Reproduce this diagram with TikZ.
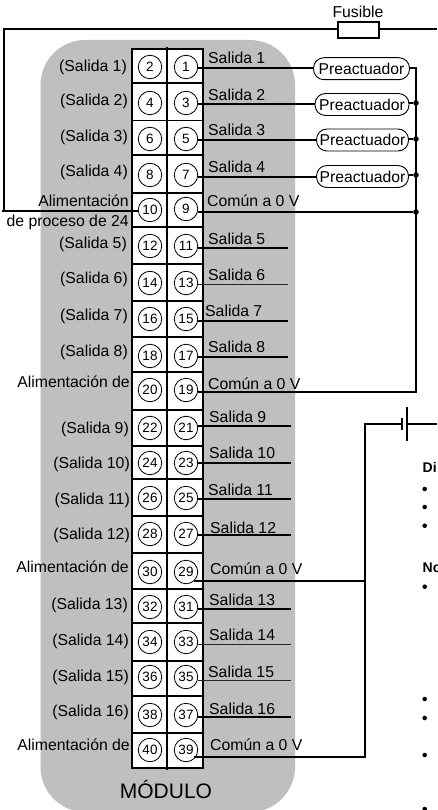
\documentclass[tikz,border=0pt]{standalone}
\usepackage{fontspec}
\setmainfont{Liberation Sans}
\newcommand{\lab}{\fontsize{15.8}{16}\selectfont}
\tikzset{
  x=1pt,y=-1pt,
  wire/.style={line width=1.9pt,line cap=butt},
  thinwire/.style={line width=0.9pt,black!85},
  term/.style={circle,draw,line width=0.8pt,fill=white,minimum size=23.5pt,inner sep=0pt,font=\fontsize{13.5}{14}\selectfont},
  cell/.style={draw,line width=1.6pt,fill=white},
  rlab/.style={anchor=base west,inner sep=0pt,font=\lab},
  llab/.style={anchor=base east,inner sep=0pt,font=\lab},
  preact/.style={draw,line width=0.9pt,fill=white,rounded corners=10.5pt,inner sep=0pt,minimum height=22pt,font=\fontsize{15.7}{16}\selectfont},
  junction/.style={circle,fill=black,inner sep=0pt,minimum size=5.5pt},
  bullet/.style={circle,fill=black,inner sep=0pt,minimum size=4.6pt},
}
\begin{document}
\begin{tikzpicture}
\useasboundingbox (0,0) rectangle (437,810);
\fill[white] (0,0) rectangle (437,810);
% module body
\fill[black!25,rounded corners=45pt] (40.5,40) rectangle (295,812);
% terminal block
\foreach \t/\b in {49/83,83/120.5,120.5/155,155/193,193/227,227/264,264/300.7,300.7/336.7,336.7/371.7,371.7/410,410/446,446/479,479/516,516/552.7,552.7/589,589/623,623/661,661/695.7,695.7/732.7,732.7/768}{
  \draw[cell] (132,\t) rectangle (167,\b);
  \draw[cell] (167,\t) rectangle (203,\b);
}
\draw[wire] (167,47) -- (167,770);
% terminals
\foreach \n/\y in {1/67,3/103,5/139,7/175,9/209,11/246,13/283,15/319,17/356,19/390,21/428,23/463,25/498,27/534,29/572,31/607,33/642,35/677,37/715,39/750}
  \node[term] (c\n) at (186,\y) {\n};
\foreach \n/\y in {2/67,4/103,6/139,8/175,10/210,12/246,14/283,16/319,18/356,20/390,22/428,24/463,26/498,28/534,30/572,32/607,34/642,36/677,38/715,40/750}
  \node[term] (c\n) at (150,\y) {\n};
% right labels
\foreach \x/\y/\s in {208/64/Salida 1,208/100.5/Salida 2,208/136/Salida 3,208/172.5/Salida 4,207/206.7/Común a 0 V,208/244.5/Salida 5,208/280/Salida 6,205/316/Salida 7,208/352/Salida 8,208/389/Común a 0 V,209/422.7/Salida 9,209/458.5/Salida 10,208/495.7/Salida 11,210/533/Salida 12,210/574/Común a 0 V,209/605.7/Salida 13,209/640/Salida 14,208/677/Salida 15,209/714/Salida 16,210/750.5/Común a 0 V}
  \node[rlab] at (\x,\y) {\s};
% left labels
\foreach \x/\y/\s in {127/71.5/(Salida 1),128/105.5/(Salida 2),128/142/(Salida 3),128/177/(Salida 4),129/206.5/Alimentación,129/226/de proceso de 24,127/248/(Salida 5),128/283.5/(Salida 6),128/320.7/(Salida 7),128/356/(Salida 8),130/387.7/Alimentación de,129/433/(Salida 9),130/468/(Salida 10),130/504/(Salida 11),130/539/(Salida 12),129/572/Alimentación de,128/609/(Salida 13),129/645/(Salida 14),129/681.7/(Salida 15),129/716/(Salida 16),130/750.7/Alimentación de}
  \node[llab] at (\x,\y) {\s};
\node[anchor=base,inner sep=0pt,font=\fontsize{21}{22}\selectfont] (modulo) at (166,798) {MÓDULO};
% preactuators
\node[preact,minimum width=96pt] (p1) at (361.5,68.7) {Preactuador};
\node[preact,minimum width=94pt] (p3) at (362,104.5) {Preactuador};
\node[preact,minimum width=92pt] (p5) at (362.5,140) {Preactuador};
\node[preact,minimum width=92pt] (p7) at (362.5,176.5) {Preactuador};
% junctions and bus
\coordinate (b1) at (416,68);
\coordinate (b19) at (416,392);
\node[junction] (j3) at (416,103) {};
\node[junction] (j5) at (416,139) {};
\node[junction] (j7) at (416,175) {};
\node[junction] (j9) at (416,212) {};
\draw[wire] (p1.east |- b1) -- (b1) -- (b19) -- (c19.east |- b19);
\draw[wire] (p3.east |- j3) -- (j3);
\draw[wire] (p5.east |- j5) -- (j5);
\draw[wire] (p7.east |- j7) -- (j7);
\draw[wire] (c1.east |- b1) -- (p1.west |- b1);
\draw[wire] (c3) ++(12,1) -- (p3.west |- 0,104);
\draw[wire] (c5) ++(12,1) -- (p5.west |- 0,140);
\draw[wire] (c7) ++(12,2) -- (p7.west |- 0,177);
\draw[wire] (c9) ++(12,3) -- (j9);
% stub outputs
\foreach \n/\y/\e in {11/248/288,15/321/288,17/357/288,21/426/291,23/463/291,25/499/291,27/535/291,31/609/291,37/717/291}{
  \coordinate (e\n) at (\e,\y);
  \draw[wire] (c\n.east |- e\n) -- (e\n);
}
\foreach \n/\y/\e in {13/284/288,33/644.7/291,35/680.7/291}{
  \coordinate (e\n) at (\e,\y);
  \draw[thinwire] (c\n.east |- e\n) -- (e\n);
}
% fuse and supply line
\node[draw,line width=1.6pt,minimum width=41pt,minimum height=16pt,inner sep=0pt] (fuse) at (358.5,30) {};
\node[anchor=base,inner sep=0pt,font=\fontsize{15.8}{16}\selectfont] (fuselab) at (358,18) {Fusible};
\coordinate (topleft) at (4,29);
\coordinate (topright) at (437,29);
\coordinate (leftin) at (2,211);
\draw[wire] (c10.west |- leftin) -- (leftin);
\draw[wire] (fuse.west |- topleft) -- (topleft) -- (topleft |- leftin);
\draw[wire] (fuse.east |- topright) -- (topright);
% battery and common
\coordinate (cr) at (365,424);
\coordinate (n29) at (365,581);
\coordinate (n39) at (365,757);
\node[inner sep=0pt,minimum width=0pt,minimum height=12pt] (plateS) at (402,424) {};
\node[inner sep=0pt,minimum width=0pt,minimum height=33pt] (plateL) at (407,424) {};
\draw[wire] (plateS.north) -- (plateS.south);
\draw[wire] (plateL.north) -- (plateL.south);
\coordinate (batR) at (437,424);
\draw[wire] (plateL.center) -- (batR);
\draw[wire] (plateS.center) -- (cr) -- (n39) -- (c39.-50 |- n39);
\draw[wire] (n29) -- (c29.-50 |- n29);
% cut-off text on the right
\node[anchor=base west,inner sep=0pt,font=\fontsize{14}{15}\selectfont\bfseries] (di) at (422.5,472.5) {Di};
\node[anchor=base west,inner sep=0pt,font=\fontsize{14}{15}\selectfont\bfseries] (no) at (422.5,572) {No};
\foreach \y [count=\i] in {489,507,525.7,586.7,699,718,755,809}
  \node[bullet] (bu\i) at (424.7,\y) {};
\end{tikzpicture}
\end{document}
